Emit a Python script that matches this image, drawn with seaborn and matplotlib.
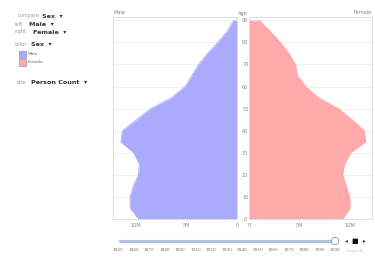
import numpy as np
import pandas as pd
import seaborn as sns
import matplotlib.pyplot as plt
from matplotlib.patches import Rectangle, Circle

# US census 2000, people per 5-year age group
ages = [0, 5, 10, 15, 20, 25, 30, 35, 40, 45, 50, 55, 60, 65, 70, 75, 80, 85, 90]
male = [9735380, 10552146, 10563233, 10237419, 9731315, 9659493, 10205879,
        11475182, 11320252, 9925006, 8507934, 6459082, 5123399, 4453623,
        3792145, 2912655, 1902638, 970357, 336303]
female = [9310714, 10069564, 10022524, 9692669, 9324244, 9518507, 10119296,
          11635647, 11488578, 10261253, 8911133, 6921268, 5668961, 4804784,
          4635025, 3980560, 3120280, 2115150, 1043061]
years = [1850, 1860, 1870, 1880, 1900, 1910, 1920, 1930, 1940, 1950,
         1960, 1970, 1980, 1990, 2000]
age_ticks = [0, 10, 20, 30, 40, 50, 60, 70, 80, 90]
pop_ticks = [0, 5e6, 10e6]
pop_labels = ['0', '5M', '10M']

df = pd.DataFrame({'age': ages, 'Male': male, 'Female': female})

male_color = '#aaaaff'
female_color = '#ffaaaa'
frame_color = '#dddddd'
label_color = '#888888'

sns.set_style('white')
plt.rcParams['font.family'] = ['DejaVu Sans']

W, H = 375, 260
fig = plt.figure(figsize=(W / 100, H / 100), dpi=100)


def px_axes(x0, y0, x1, y1):
    return fig.add_axes([x0 / W, 1 - y1 / H, (x1 - x0) / W, (y1 - y0) / H])


ax_m = px_axes(113, 17, 237, 219)
ax_f = px_axes(249, 17, 372, 219)

xmax = 12.25e6
for ax, col, color in [(ax_m, 'Male', male_color), (ax_f, 'Female', female_color)]:
    ax.fill_betweenx(df['age'], 0, df[col], color=color, lw=0, zorder=2)
    sns.lineplot(data=df, x=col, y='age', orient='y', ax=ax,
                 color=color, lw=0.6, zorder=3)
    ax.set_ylim(0, 91.5)
    ax.set_yticks(age_ticks)
    ax.set_xticks(pop_ticks)
    ax.set_xticklabels(pop_labels)
    ax.grid(axis='y', color='#eeeeee', lw=0.6, zorder=0)
    ax.grid(axis='x', visible=False)
    for s in ax.spines.values():
        s.set_color(frame_color)
        s.set_linewidth(0.7)
    ax.set_xlabel('')
    ax.set_ylabel('')
    ax.tick_params(axis='x', length=2, width=0.5, color='#999999', pad=1,
                   labelsize=3.6, labelcolor=label_color)

ax_m.set_xlim(xmax, 0)
ax_f.set_xlim(0, xmax)
ax_f.set_yticklabels([])
ax_f.tick_params(axis='y', length=0)

# age labels in the gap between the two panels
ax_m.yaxis.tick_right()
ax_m.set_yticklabels([str(a) for a in age_ticks])
ax_m.tick_params(axis='y', length=0, pad=6, labelsize=3.6, labelcolor=label_color)
for t in ax_m.get_yticklabels():
    t.set_horizontalalignment('center')

fig.text(113 / W, 1 - 13 / H, 'Male', fontsize=3.6, color=label_color, va='center')
fig.text(243 / W, 1 - 13 / H, 'Age', fontsize=3.6, color=label_color, va='center', ha='center')
fig.text(372 / W, 1 - 13 / H, 'Female', fontsize=3.6, color=label_color, va='center', ha='right')

# left control panel
def control(y, key, value, x_val):
    fig.text(40 / W, 1 - y / H, key, fontsize=3.6, color='#999999', ha='right', va='center')
    fig.text(x_val / W, 1 - y / H, value + '  \u25be', fontsize=4.6, color='#333333',
             weight='bold', va='center')

control(16, 'compare', 'Sex', 42)
fig.text(23 / W, 1 - 24 / H, 'left', fontsize=3.6, color='#999999', ha='right', va='center')
fig.text(29 / W, 1 - 24 / H, 'Male  \u25be', fontsize=4.6, color='#333333', weight='bold', va='center')
fig.text(27 / W, 1 - 32 / H, 'right', fontsize=3.6, color='#999999', ha='right', va='center')
fig.text(33 / W, 1 - 32 / H, 'Female  \u25be', fontsize=4.6, color='#333333', weight='bold', va='center')
fig.text(27 / W, 1 - 45 / H, 'color', fontsize=3.6, color='#999999', ha='right', va='center')
fig.text(31 / W, 1 - 45 / H, 'Sex  \u25be', fontsize=4.6, color='#333333', weight='bold', va='center')
for i, (name, color) in enumerate([('Male', male_color), ('Female', female_color)]):
    y = 54 + 8 * i
    fig.patches.append(Rectangle((19 / W, 1 - (y + 3.5) / H), 7 / W, 7 / H,
                                 transform=fig.transFigure, facecolor=color,
                                 edgecolor='#888888', lw=0.4))
    fig.text(28 / W, 1 - y / H, name, fontsize=3.2, color='#666666', va='center')
fig.text(27 / W, 1 - 83 / H, 'size', fontsize=3.6, color='#999999', ha='right', va='center')
fig.text(31 / W, 1 - 83 / H, 'Person Count  \u25be', fontsize=4.6, color='#333333', weight='bold', va='center')

# year slider
ax_s = px_axes(113, 234, 340, 256)
ax_s.set_xlim(113, 340)
ax_s.set_ylim(256, 234)
ax_s.axis('off')
ax_s.plot([120, 335], [241, 241], color='#b0c4de', lw=2.2, solid_capstyle='round')
ax_s.add_patch(Circle((335, 241), 3.6, facecolor='white', edgecolor='#999999', lw=0.6, zorder=3))
for i, yr in enumerate(years):
    xp = 118 + i * (335 - 118) / (len(years) - 1)
    ax_s.text(xp, 250, str(yr), fontsize=3.1, color='#777777', ha='center', va='center')

fig.text(346 / W, 1 - 241 / H, '\u25c2', fontsize=4, color='#333333', ha='center', va='center')
fig.text(355 / W, 1 - 241 / H, '\u25a0', fontsize=5, color='#111111', ha='center', va='center')
fig.text(364 / W, 1 - 241 / H, '\u25b8', fontsize=4, color='#333333', ha='center', va='center')
fig.text(355 / W, 1 - 251 / H, 'loop off', fontsize=3.0, color='#bbbbbb', ha='center', va='center')

fig.savefig('out.png', dpi=100)
